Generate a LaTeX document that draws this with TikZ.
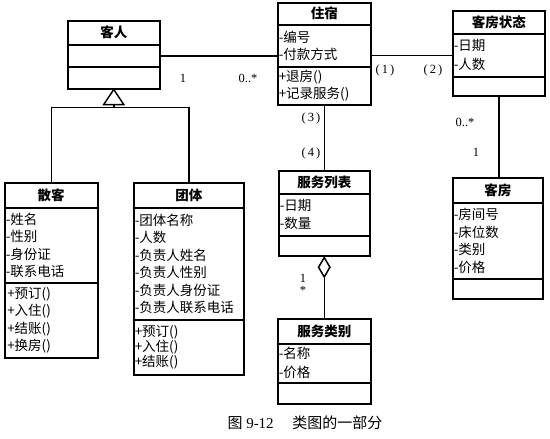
\documentclass[tikz,border=0pt]{standalone}
\usepackage{fontspec}
\setmainfont{Liberation Serif}
\newfontfamily\cjk{Noto Sans CJK SC}
\usetikzlibrary{shapes.geometric}

\begin{document}
\begin{tikzpicture}[x=1pt, y=-1pt]
% Definição de estilos
\tikzset{
  classe/.style={rectangle, draw, line width=1.5pt, anchor=north west, inner sep=0pt},
  titulo/.style={classe, font=\cjk\bfseries\fontsize{13.5}{16}\selectfont, align=center},
  lista/.style={classe, inner xsep=1pt, font=\cjk\fontsize{13.5}{17.5}\selectfont, align=left},
  linha/.style={line width=1.5pt},
  mult/.style={font=\fontsize{12.5}{14}\selectfont, inner sep=0pt}
}
\useasboundingbox (0,0) rectangle (550,439);

% Classe 客人
\node[titulo, minimum width=92pt, minimum height=24pt] (cliTit) at (67,20) {客人};
\node[lista, text width=90pt, minimum height=22pt] (cliAtr) at (67,44) {};
\node[lista, text width=90pt, minimum height=22pt] (cliOps) at (67,66) {};

% Classe 散客
\node[titulo, minimum width=93pt, minimum height=25pt] (avulsoTit) at (4,182) {散客};
\node[lista, text width=91pt, minimum height=75pt] (avulsoAtr) at (4,207) {-姓名\\-性别\\-身份证\\-联系电话};
\node[lista, text width=88pt, inner xsep=2.5pt, minimum height=75pt] (avulsoOps) at (4,282) {+预订()\\+入住()\\+结账()\\+换房()};

% Classe 团体
\node[titulo, minimum width=110pt, minimum height=25pt] (grupoTit) at (133,182) {团体};
\node[lista, text width=108pt, minimum height=112pt] (grupoAtr) at (133,207) {-团体名称\\-人数\\-负责人姓名\\-负责人性别\\-负责人身份证\\-负责人联系电话};
\node[lista, text width=108pt, minimum height=55pt, font=\cjk\fontsize{13.5}{15}\selectfont] (grupoOps) at (133,319) {+预订()\\+入住()\\+结账()};

% Classe 住宿
\node[titulo, minimum width=93pt, minimum height=22pt] (hospTit) at (277,2) {住宿};
\node[lista, text width=91pt, minimum height=42pt, font=\cjk\fontsize{13.5}{17}\selectfont] (hospAtr) at (277,24) {-编号\\-付款方式};
\node[lista, text width=91pt, minimum height=38pt, font=\cjk\fontsize{13.5}{17}\selectfont] (hospOps) at (277,66) {+退房()\\+记录服务()};

% Classe 客房状态
\node[titulo, minimum width=92pt, minimum height=23pt] (statusTit) at (452,10) {客房状态};
\node[lista, text width=90pt, minimum height=43pt, font=\cjk\fontsize{13.5}{19}\selectfont] (statusAtr) at (452,33) {-日期\\-人数};
\node[lista, text width=90pt, minimum height=19pt] (statusOps) at (452,76) {};

% Classe 服务列表
\node[titulo, minimum width=91pt, minimum height=23pt] (servTit) at (278,170) {服务列表};
\node[lista, text width=89pt, minimum height=42pt, font=\cjk\fontsize{13.5}{18}\selectfont] (servAtr) at (278,193) {-日期\\-数量};
\node[lista, text width=89pt, minimum height=20pt] (servOps) at (278,235) {};

% Classe 服务类别
\node[titulo, minimum width=93pt, minimum height=25pt] (tipoTit) at (277,318) {服务类别};
\node[lista, text width=91pt, minimum height=39pt, font=\cjk\fontsize{13.5}{19}\selectfont] (tipoAtr) at (277,343) {-名称\\-价格};
\node[lista, text width=91pt, minimum height=21pt] (tipoOps) at (277,382) {};

% Classe 客房
\node[titulo, minimum width=90pt, minimum height=25pt] (quartoTit) at (452,177) {客房};
\node[lista, text width=88pt, minimum height=76pt] (quartoAtr) at (452,202) {-房间号\\-床位数\\-类别\\-价格};
\node[lista, text width=88pt, minimum height=20pt] (quartoOps) at (452,278) {};

% Generalização
\draw[linha] (cliOps.south) -- ++(10,15) -- ++(-20,0) -- cycle;
\coordinate (heranca) at ([yshift=-15pt]cliOps.south);
\coordinate (juncao) at ([yshift=-18pt]cliOps.south);
\draw[linha] (heranca) -- (juncao);
\draw[linha] (juncao) -| (avulsoTit.north);
\draw[linha] (juncao) -| (grupoTit.north);

% Associações
\draw[linha] (cliAtr.east) -- (cliAtr.east -| hospAtr.west);
\draw[linha] (statusAtr.west -| hospAtr.east) -- (statusAtr.west);
\draw[linha] (hospOps.south) -- (hospOps.south |- servTit.north);
\draw[linha] (statusOps.south) -- (statusOps.south |- quartoTit.north);

% Agregação
\node[diamond, draw, linha, minimum width=12pt, minimum height=20pt, inner sep=0pt, anchor=north] (losango) at (servOps.south) {};
\draw[linha] (losango.south) -- (losango.south |- tipoTit.north);

% Multiplicidades
\node[mult] (m1) at (183,78) {1};
\node[mult] (m2) at (248,78) {0..*};
\node[mult] (m3) at (385,70) {(\,1\,)};
\node[mult] (m4) at (433,70) {(\,2\,)};
\node[mult] (m5) at (311,118) {(\,3\,)};
\node[mult] (m6) at (311,153) {(\,4\,)};
\node[mult] (m7) at (465,122) {0..*};
\node[mult] (m8) at (476,152) {1};
\node[mult] (m9) at (303,278) {1};
\node[mult] (m10) at (303,290) {*};

% Legenda
\node[font=\fontsize{15}{17}\selectfont] (legenda) at (305,423) {{\cjk 图} 9-12\quad\ {\cjk 类图的一部分}};

\end{tikzpicture}
\end{document}
